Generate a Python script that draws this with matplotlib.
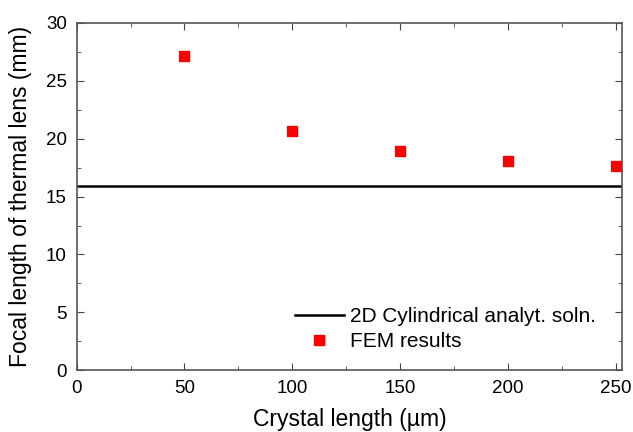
import matplotlib
matplotlib.use("Agg")
import matplotlib.pyplot as plt
from matplotlib.ticker import MultipleLocator

plt.rcParams['font.family'] = ['Liberation Sans', 'DejaVu Sans']

# crystal length (um) vs focal length (mm)
crystal_len = [50, 100, 150, 200, 250]
fem_focal = [27.1, 20.7, 18.9, 18.1, 17.6]
analytic_focal = 15.9

fig = plt.figure(figsize=(6.33, 4.32), dpi=100)
ax = fig.add_axes([0.121, 0.143, 0.862, 0.804])

ax.axhline(analytic_focal, color="black", lw=1.8, label="2D Cylindrical analyt. soln.")
ax.plot(crystal_len, fem_focal, "s", color="#ff0000", ms=7.8, ls="none", label="FEM results")

ax.set_xlim(0, 253)
ax.set_ylim(0, 30)
ax.xaxis.set_major_locator(MultipleLocator(50))
ax.xaxis.set_minor_locator(MultipleLocator(25))
ax.yaxis.set_major_locator(MultipleLocator(5))
ax.yaxis.set_minor_locator(MultipleLocator(2.5))
ax.tick_params(which="both", direction="in", top=True, right=True, labelsize=13.5,
               color="#444444", pad=7)
ax.tick_params(which="major", length=5)
ax.tick_params(which="minor", length=3)
for s in ax.spines.values():
    s.set_color("#555555")
    s.set_linewidth(1.2)

ax.set_xlabel("Crystal length (µm)", fontsize=16.5, labelpad=8)
ax.set_ylabel("Focal length of thermal lens (mm)", fontsize=16.5, labelpad=10)

ax.legend(loc="lower right", bbox_to_anchor=(0.967, 0.03), borderaxespad=0,
          frameon=False, fontsize=15, handlelength=2.35, handletextpad=0.3,
          labelspacing=0.3)

fig.savefig("out.png", dpi=100)
